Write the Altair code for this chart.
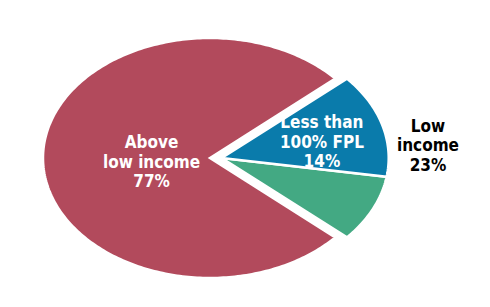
import altair as alt
import numpy as np
import pandas as pd

# ---- data -------------------------------------------------------------
categories = ["Above low income", "Less than 100% FPL", "100-199% FPL"]
values = [77, 14, 9]
slice_labels = ["Above\nlow income\n77%", "Less than\n100% FPL\n14%", ""]
group_label = "Low\nincome\n23%"
colors = ["#b24a5c", "#0a7bab", "#43a983"]

# ---- layout / style (not data) ----------------------------------------
RX, RY = 167.0, 120.0          # px per unit on x / y  (ellipse radii)
W, H = 470, 290
CX_PX, CY_PX = 202.0, 150.0    # centre inside the plot area
EXPLODE = 0.07                 # shift of the low-income slices (units)
draw_order = [0, 2, 1]         # counter-clockwise: red, green, blue
label_pos = {0: (-0.35, 0.125), 1: (0.67, 0.29)}   # first-line anchors
group_pos = (1.305, 0.26)

xdom = [-CX_PX / RX, (W - CX_PX) / RX]
ydom = [-(H - CY_PX) / RY, CY_PX / RY]

low_share = values[1] + values[2]
start = low_share / 2 / sum(values) * 360.0

rows = []
a = start
for i in draw_order:
    span = values[i] / sum(values) * 360.0
    a0, a1 = a, a + span
    a = a1
    ox = 0.0 if i == 0 else EXPLODE
    n = max(int(span), 8)
    rows.append(dict(cat=categories[i], k=0, a0=a0, a1=a1, t=0.0, r=0.0, ox=ox))
    for j, t in enumerate(np.linspace(0, 1, n + 1)):
        rows.append(dict(cat=categories[i], k=j + 1, a0=a0, a1=a1, t=float(t), r=1.0, ox=ox))
pts = pd.DataFrame(rows)

xs = alt.Scale(domain=xdom, nice=False, zero=False)
ys = alt.Scale(domain=ydom, nice=False, zero=False)

base = alt.Chart(pts).transform_calculate(
    ang="(datum.a0 + datum.t * (datum.a1 - datum.a0)) * PI / 180",
).transform_calculate(
    px="datum.ox + datum.r * cos(datum.ang)",
    py="datum.r * sin(datum.ang)",
)

layers = []
for i in draw_order:
    layers.append(
        base.transform_filter(alt.datum.cat == categories[i])
        .mark_line(fill=colors[i], stroke="white", strokeWidth=2.5,
                   interpolate="linear-closed", strokeJoin="miter")
        .encode(
            x=alt.X("px:Q", scale=xs, axis=None),
            y=alt.Y("py:Q", scale=ys, axis=None),
            order=alt.Order("k:Q"),
        )
    )

lab = pd.DataFrame({
    "text": [slice_labels[0], slice_labels[1], group_label],
    "lx": [label_pos[0][0], label_pos[1][0], group_pos[0]],
    "ly": [label_pos[0][1], label_pos[1][1], group_pos[1]],
    "col": ["white", "white", "black"],
})

font = "DejaVu Sans Condensed, DejaVu Sans, sans-serif"
texts = alt.Chart(lab).mark_text(
    font=font, fontSize=17, fontWeight="bold", lineBreak="\n",
    lineHeight=19.5, align="center", baseline="middle",
).encode(
    x=alt.X("lx:Q", scale=xs, axis=None),
    y=alt.Y("ly:Q", scale=ys, axis=None),
    text="text:N",
    color=alt.Color("col:N", scale=None),
)

chart = alt.layer(*layers, texts).properties(
    width=W, height=H, padding=0,
    autosize=alt.AutoSizeParams(type="none"),
).configure_view(stroke=None)

chart.save("out.html", embed_options={"renderer": "svg", "actions": False})
